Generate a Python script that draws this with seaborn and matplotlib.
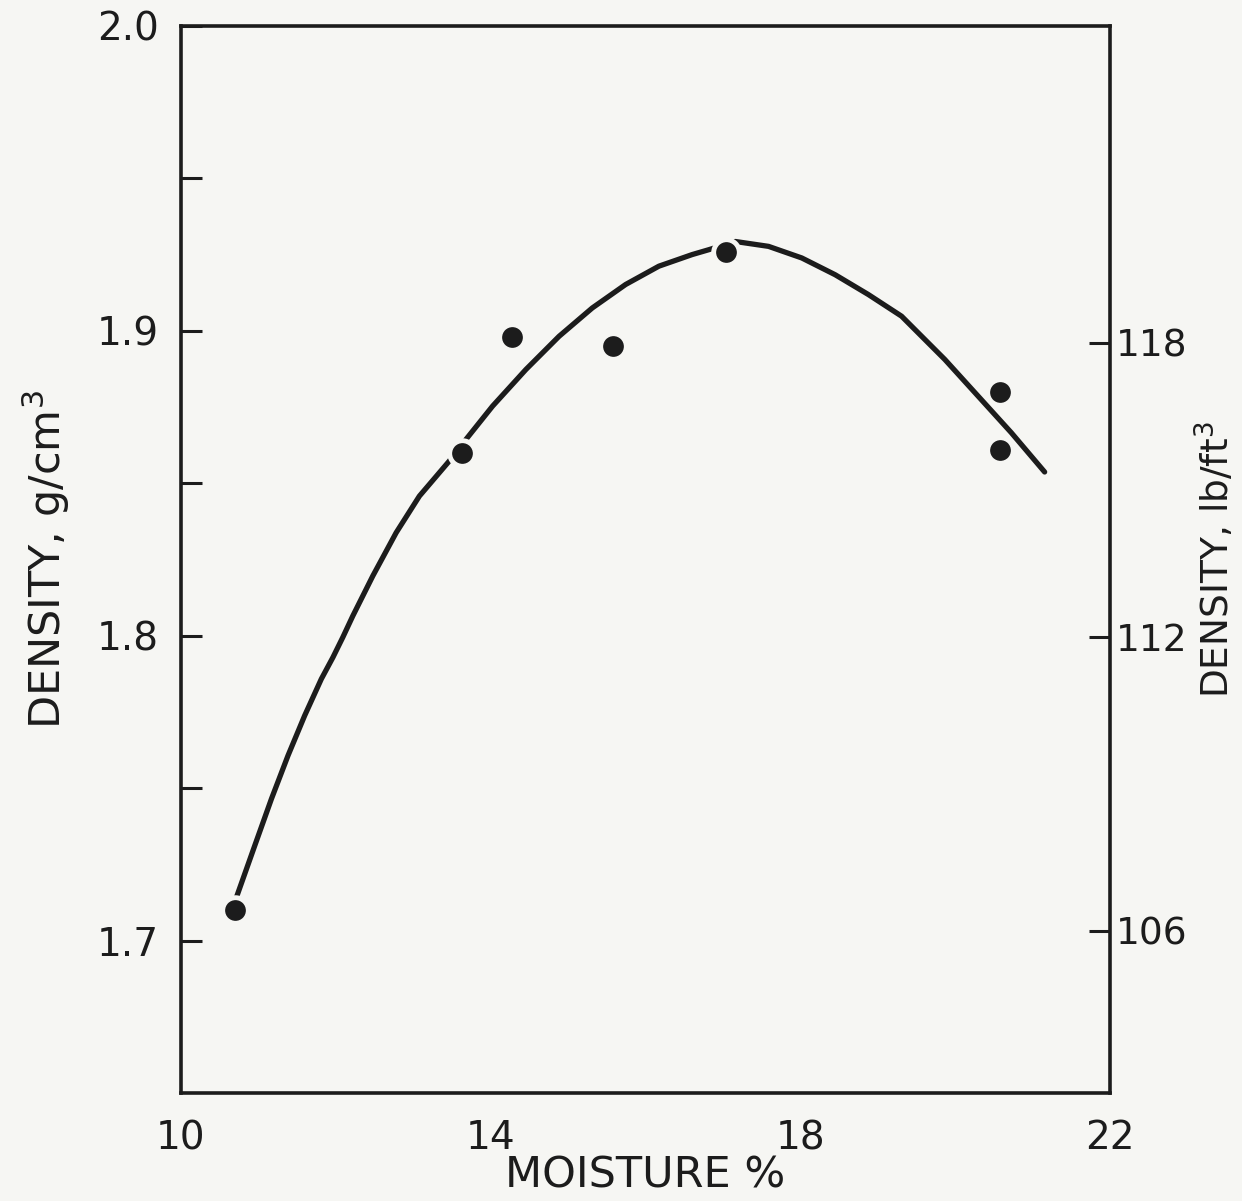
import matplotlib
matplotlib.use("Agg")
import matplotlib.pyplot as plt
import seaborn as sns
import pandas as pd

# measured points (moisture %, density g/cm3)
moisture_pts = [10.70, 13.63, 14.27, 15.58, 17.04, 20.58, 20.58]
density_pts = [1.710, 1.860, 1.898, 1.895, 1.926, 1.880, 1.861]

# hand-drawn compaction curve
curve_moisture = [10.718, 10.954, 11.169, 11.383, 11.598, 11.813, 11.963, 12.091,
                  12.220, 12.478, 12.780, 13.080, 13.466, 13.682, 14.025, 14.455,
                  14.884, 15.313, 15.744, 16.173, 16.602, 16.817, 17.161, 17.590,
                  18.019, 18.450, 18.879, 19.308, 19.867, 20.296, 20.725, 21.156]
curve_density = [1.7143, 1.7312, 1.7465, 1.7607, 1.7738, 1.7858, 1.7929, 1.7995,
                 1.8065, 1.8196, 1.8338, 1.8458, 1.8573, 1.8644, 1.8753, 1.8873,
                 1.8982, 1.9075, 1.9152, 1.9212, 1.9250, 1.9266, 1.9293, 1.9277,
                 1.9239, 1.9184, 1.9119, 1.9048, 1.8906, 1.8786, 1.8666, 1.8537]

x_ticks = [10, 12, 14, 16, 18, 20, 22]
x_labels = ['10', '', '14', '', '18', '', '22']
y_ticks = [1.7, 1.75, 1.8, 1.85, 1.9, 1.95, 2.0]
y_labels = ['1.7', '', '1.8', '', '1.9', '', '2.0']
lb_ticks = [106, 112, 118]

paper = '#f6f6f3'
ink = '#1c1c1c'

sns.set_style("white")
plt.rcParams['font.family'] = ['DejaVu Sans']
plt.rcParams['mathtext.fontset'] = 'dejavusans'

fig = plt.figure(figsize=(12.42, 12.01), dpi=100, facecolor=paper)
ax = fig.add_axes([0.1457, 0.0899, 0.7480, 0.8885])
ax.set_facecolor(paper)

curve = pd.DataFrame({'moisture': curve_moisture, 'density': curve_density})
pts = pd.DataFrame({'moisture': moisture_pts, 'density': density_pts})

sns.lineplot(data=curve, x='moisture', y='density', sort=False, ax=ax,
             color=ink, linewidth=3.8, zorder=2)
sns.scatterplot(data=pts, x='moisture', y='density', ax=ax, s=340,
                color=ink, edgecolor=paper, linewidth=3.5, zorder=3)

ax.set_xlim(10, 22)
ax.set_ylim(1.65, 2.0)
ax.set_xticks(x_ticks)
ax.set_xticklabels(x_labels)
ax.set_yticks(y_ticks)
ax.set_yticklabels(y_labels)
ax.tick_params(direction='in', length=15, width=2.2, colors=ink,
               labelsize=28, pad=16)
ax.tick_params(axis='x', pad=19)
ax.set_xlabel('MOISTURE %', fontsize=31, color=ink)
ax.xaxis.set_label_coords(0.5, -0.058)
ax.set_ylabel(r'DENSITY, g/cm$^3$', fontsize=31, color=ink, labelpad=18)

for sp in ax.spines.values():
    sp.set_visible(True)
    sp.set_linewidth(2.6)
    sp.set_color(ink)

# right-hand scale in lb/ft3
ax2 = ax.twinx()
ax2.set_ylim(102.69, 124.46)
ax2.set_yticks(lb_ticks)
ax2.tick_params(direction='in', length=15, width=2.2, colors=ink,
                labelsize=27, pad=4)
ax2.set_ylabel(r'DENSITY, lb/ft$^3$', fontsize=27, color=ink)
ax2.yaxis.set_label_coords(1.091, 0.5)
for sp in ax2.spines.values():
    sp.set_visible(False)

fig.savefig('out.png', dpi=100, facecolor=paper)
